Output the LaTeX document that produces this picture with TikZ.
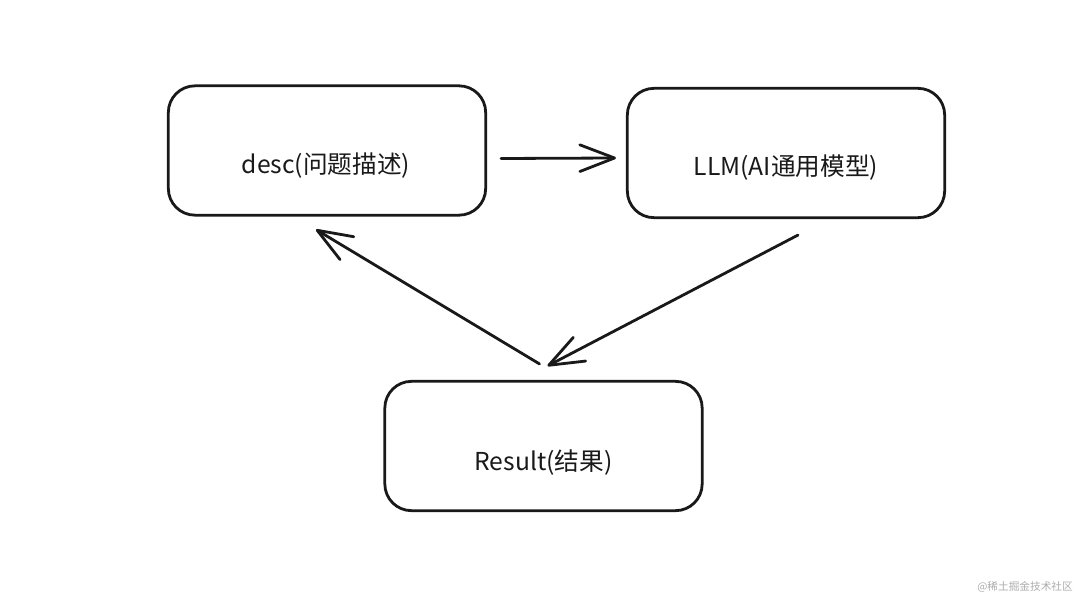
\documentclass[tikz,border=0pt]{standalone}
\usepackage{fontspec}
\setmainfont{Noto Sans CJK SC}
\usetikzlibrary{arrows.meta,calc}
\begin{document}
\begin{tikzpicture}[x=0.75pt,y=-0.75pt,
  box/.style={draw=black!90,line width=2.1pt,rounded corners=20pt,minimum width=238pt,minimum height=97pt,inner sep=0pt,fill=white},
  lbl/.style={font=\fontsize{18.5}{20}\selectfont,text=black!90,inner sep=0pt},
  conn/.style={draw=black!90,line width=2.1pt,line cap=round,-{Straight Barb[length=26pt,width=20pt,line width=2.1pt,round]}},
  wm/.style={font=\fontsize{8}{9}\selectfont,text=black!32,inner sep=0pt}]
\useasboundingbox[fill=white] (0,0) rectangle (1080,599);
\node[box] (desc) at (327,150.5) {};
\node[box] (llm) at (786,153) {};
\node[box] (res) at (543.5,446) {};
\node[lbl] (descT) at (326,166) {desc(问题描述)};
\node[lbl] (llmT) at (786,168) {LLM(AI通用模型)};
\node[lbl] (resT) at (543.5,463) {Result(结果)};
\draw[conn] ($(desc.east)+(14,8)$) -- ($(llm.west)+(-10,5)$);
\draw[conn] ($(llm.south)+(12,16)$) -- ($(res.north)+(4,-14)$);
\draw[conn] ($(res.north)+(-4,-16)$) -- ($(desc.south)+(-11,13)$);
\node[wm,anchor=east] (wmk) at (1073,587) {@稀土掘金技术社区};
\end{tikzpicture}
\end{document}
